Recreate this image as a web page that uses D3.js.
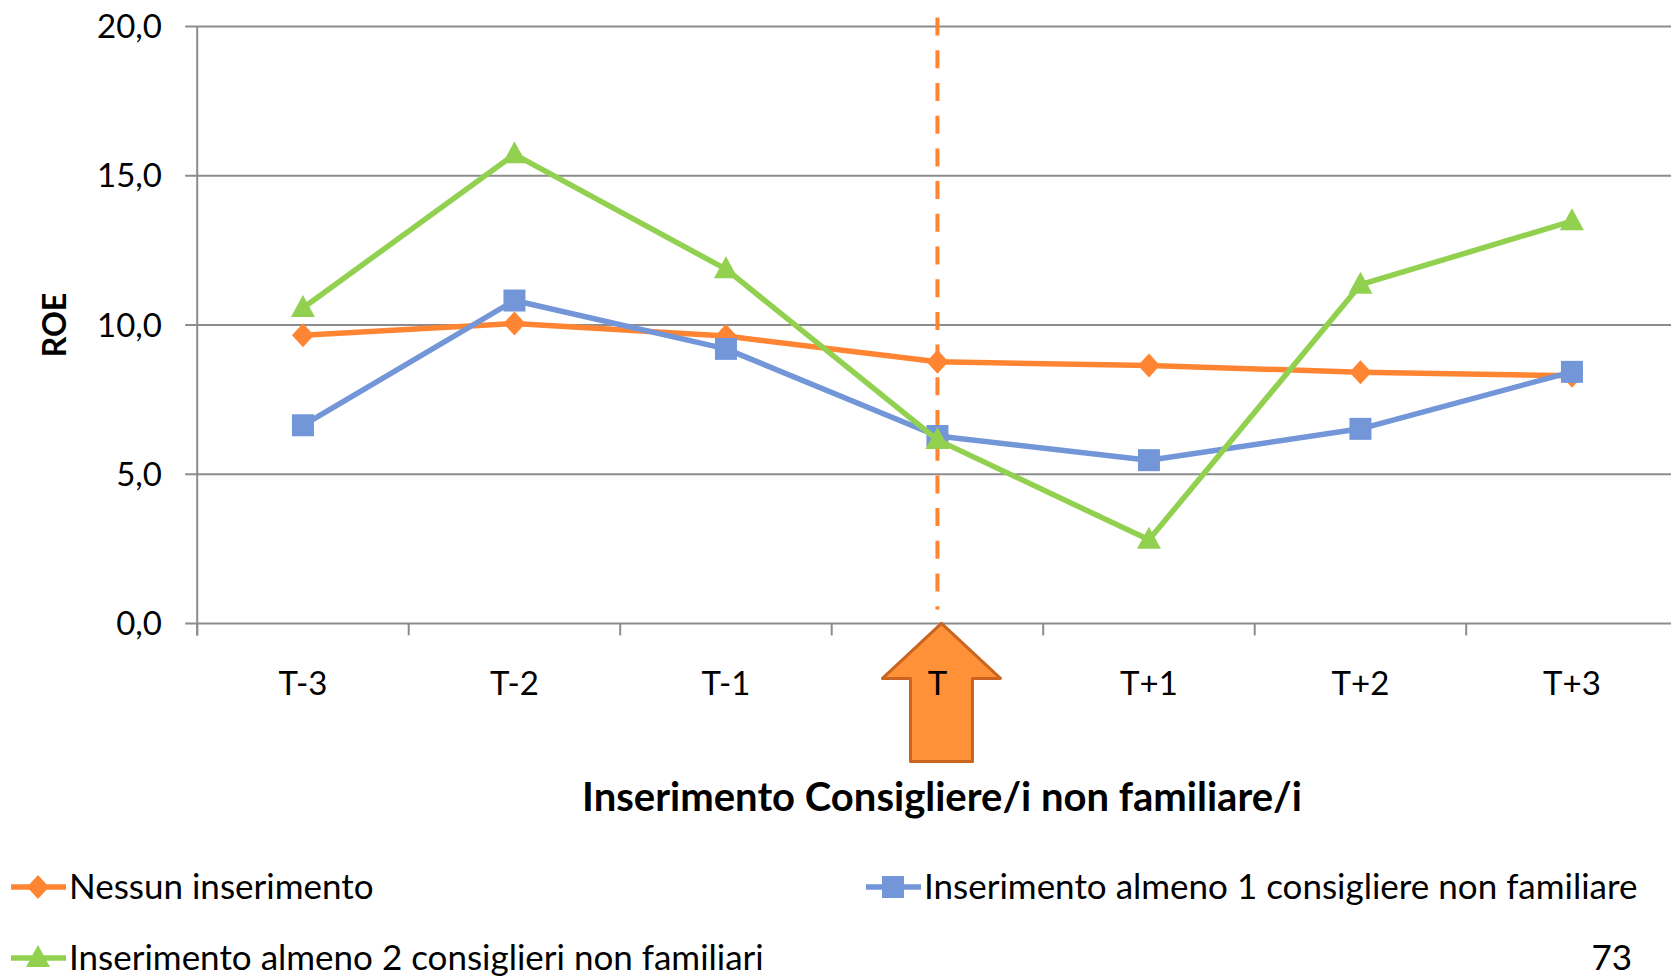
<!DOCTYPE html>
<html><head><meta charset="utf-8">
<script src="https://cdn.jsdelivr.net/npm/d3@7"></script>
<style>
html,body{margin:0;padding:0;background:#fff;overflow:hidden;}
text{font-family:Lato,"Open Sans",sans-serif;fill:#000;}
</style></head>
<body>
<svg id="chart" width="1671" height="977"></svg>
<script>
const categories = ["T-3","T-2","T-1","T","T+1","T+2","T+3"];
const nessun = [9.66, 10.05, 9.63, 8.77, 8.64, 8.42, 8.30];
const almeno1 = [6.64, 10.82, 9.20, 6.28, 5.47, 6.52, 8.43];
const almeno2 = [10.57, 15.72, 11.87, 6.15, 2.80, 11.35, 13.48];
const yTicks = [0, 5, 10, 15, 20];
const seriesNames = ["Nessun inserimento","Inserimento almeno 1 consigliere non familiare","Inserimento almeno 2 consiglieri non familiari"];
const xTitle = "Inserimento Consigliere/i non familiare/i";
const yTitle = "ROE";
const eventCategory = "T";
const pageNumber = "73";

(function(){
const colors = ["#FF8533","#7396D9","#92D050"];
const svg = d3.select("#chart");

const pLeft = 197.2, bandW = 211.5, pTop = 26.6, pBottom = 623.4;
const x = d3.scaleBand().domain(categories).range([pLeft, pLeft + bandW*categories.length]).padding(0);
const y = d3.scaleLinear().domain([0,20]).range([pBottom, pTop]);
const cx = c => x(c) + x.bandwidth()/2;

svg.append("g").selectAll("line").data(yTicks).join("line")
  .attr("x1", pLeft - 12).attr("x2", 1671)
  .attr("y1", d => y(d)).attr("y2", d => y(d))
  .attr("stroke", "#8c8c8c").attr("stroke-width", 2);

svg.append("line").attr("x1", pLeft).attr("x2", pLeft).attr("y1", pTop).attr("y2", pBottom + 12)
  .attr("stroke", "#8c8c8c").attr("stroke-width", 2);

const xt = categories.map(c=>x(c)).concat([pLeft + bandW*categories.length]);
svg.append("g").selectAll("line").data(xt).join("line")
  .attr("x1", d=>d).attr("x2", d=>d).attr("y1", pBottom).attr("y2", pBottom + 12)
  .attr("stroke", "#8c8c8c").attr("stroke-width", 2);

svg.append("g").selectAll("text").data(yTicks).join("text")
  .attr("x", 162).attr("y", d => y(d)).attr("dy", "0.35em")
  .attr("text-anchor", "end").attr("font-size", 33)
  .text(d => d3.format(".1f")(d).replace(".", ","));

svg.append("text").attr("transform", `translate(66,${(pTop+pBottom)/2}) rotate(-90)`)
  .attr("text-anchor","middle").attr("font-size", 32).attr("font-weight","bold").text(yTitle);

svg.append("line").attr("x1", cx(eventCategory)).attr("x2", cx(eventCategory))
  .attr("y1", pTop - 9).attr("y2", pBottom - 14)
  .attr("stroke", "#FF8533").attr("stroke-width", 4).attr("stroke-dasharray", "18 14.7");

const ax = cx(eventCategory) + 4, tipY = pBottom;
const arrowPts = [[ax, tipY],[ax+59, tipY+55],[ax+31, tipY+55],[ax+31, tipY+138],[ax-31, tipY+138],[ax-31, tipY+55],[ax-59, tipY+55]];
svg.append("polygon").attr("points", arrowPts.map(p=>p.join(",")).join(" "))
  .attr("fill", "#FF9138").attr("stroke", "#C9651F").attr("stroke-width", 3).attr("stroke-linejoin","round");

svg.append("g").selectAll("text").data(categories).join("text")
  .attr("x", d => cx(d)).attr("y", 695).attr("text-anchor","middle").attr("font-size", 33).text(d=>d);

svg.append("text").attr("x", 942).attr("y", 811).attr("text-anchor","middle")
  .attr("font-size", 40).attr("font-weight","bold").text(xTitle);

const allSeries = [nessun, almeno1, almeno2];
const line = d3.line().x((d,i)=>cx(categories[i])).y(d=>y(d));
function marker(g, k, px, py){
  if (k===0){
    g.append("path").attr("d", `M${px},${py-12} L${px+11},${py} L${px},${py+12} L${px-11},${py} Z`).attr("fill", colors[0]);
  } else if (k===1){
    g.append("rect").attr("x", px-11).attr("y", py-11).attr("width", 22).attr("height", 22).attr("fill", colors[1]);
  } else {
    g.append("path").attr("d", `M${px},${py-13} L${px+12},${py+9} L${px-12},${py+9} Z`).attr("fill", colors[2]);
  }
}
allSeries.forEach((s,k)=>{
  svg.append("path").datum(s).attr("d", line).attr("fill","none")
    .attr("stroke", colors[k]).attr("stroke-width", 5.5).attr("stroke-linejoin","round");
  const g = svg.append("g");
  s.forEach((v,i)=> marker(g, k, cx(categories[i]), y(v)));
});

const legendItems = [
  {k:0, lx:11, ty:887},
  {k:1, lx:866, ty:887},
  {k:2, lx:11, ty:958}
];
legendItems.forEach(it=>{
  const g = svg.append("g");
  g.append("line").attr("x1", it.lx).attr("x2", it.lx+55).attr("y1", it.ty).attr("y2", it.ty)
    .attr("stroke", colors[it.k]).attr("stroke-width", 5.5);
  marker(g, it.k, it.lx+27, it.ty);
  g.append("text").attr("x", it.lx+58).attr("y", it.ty).attr("dy","0.35em").attr("font-size", 35).text(seriesNames[it.k]);
});

svg.append("text").attr("x", 1632).attr("y", 958).attr("dy","0.35em").attr("text-anchor","end").attr("font-size", 35).text(pageNumber);
})();
</script>
</body></html>
